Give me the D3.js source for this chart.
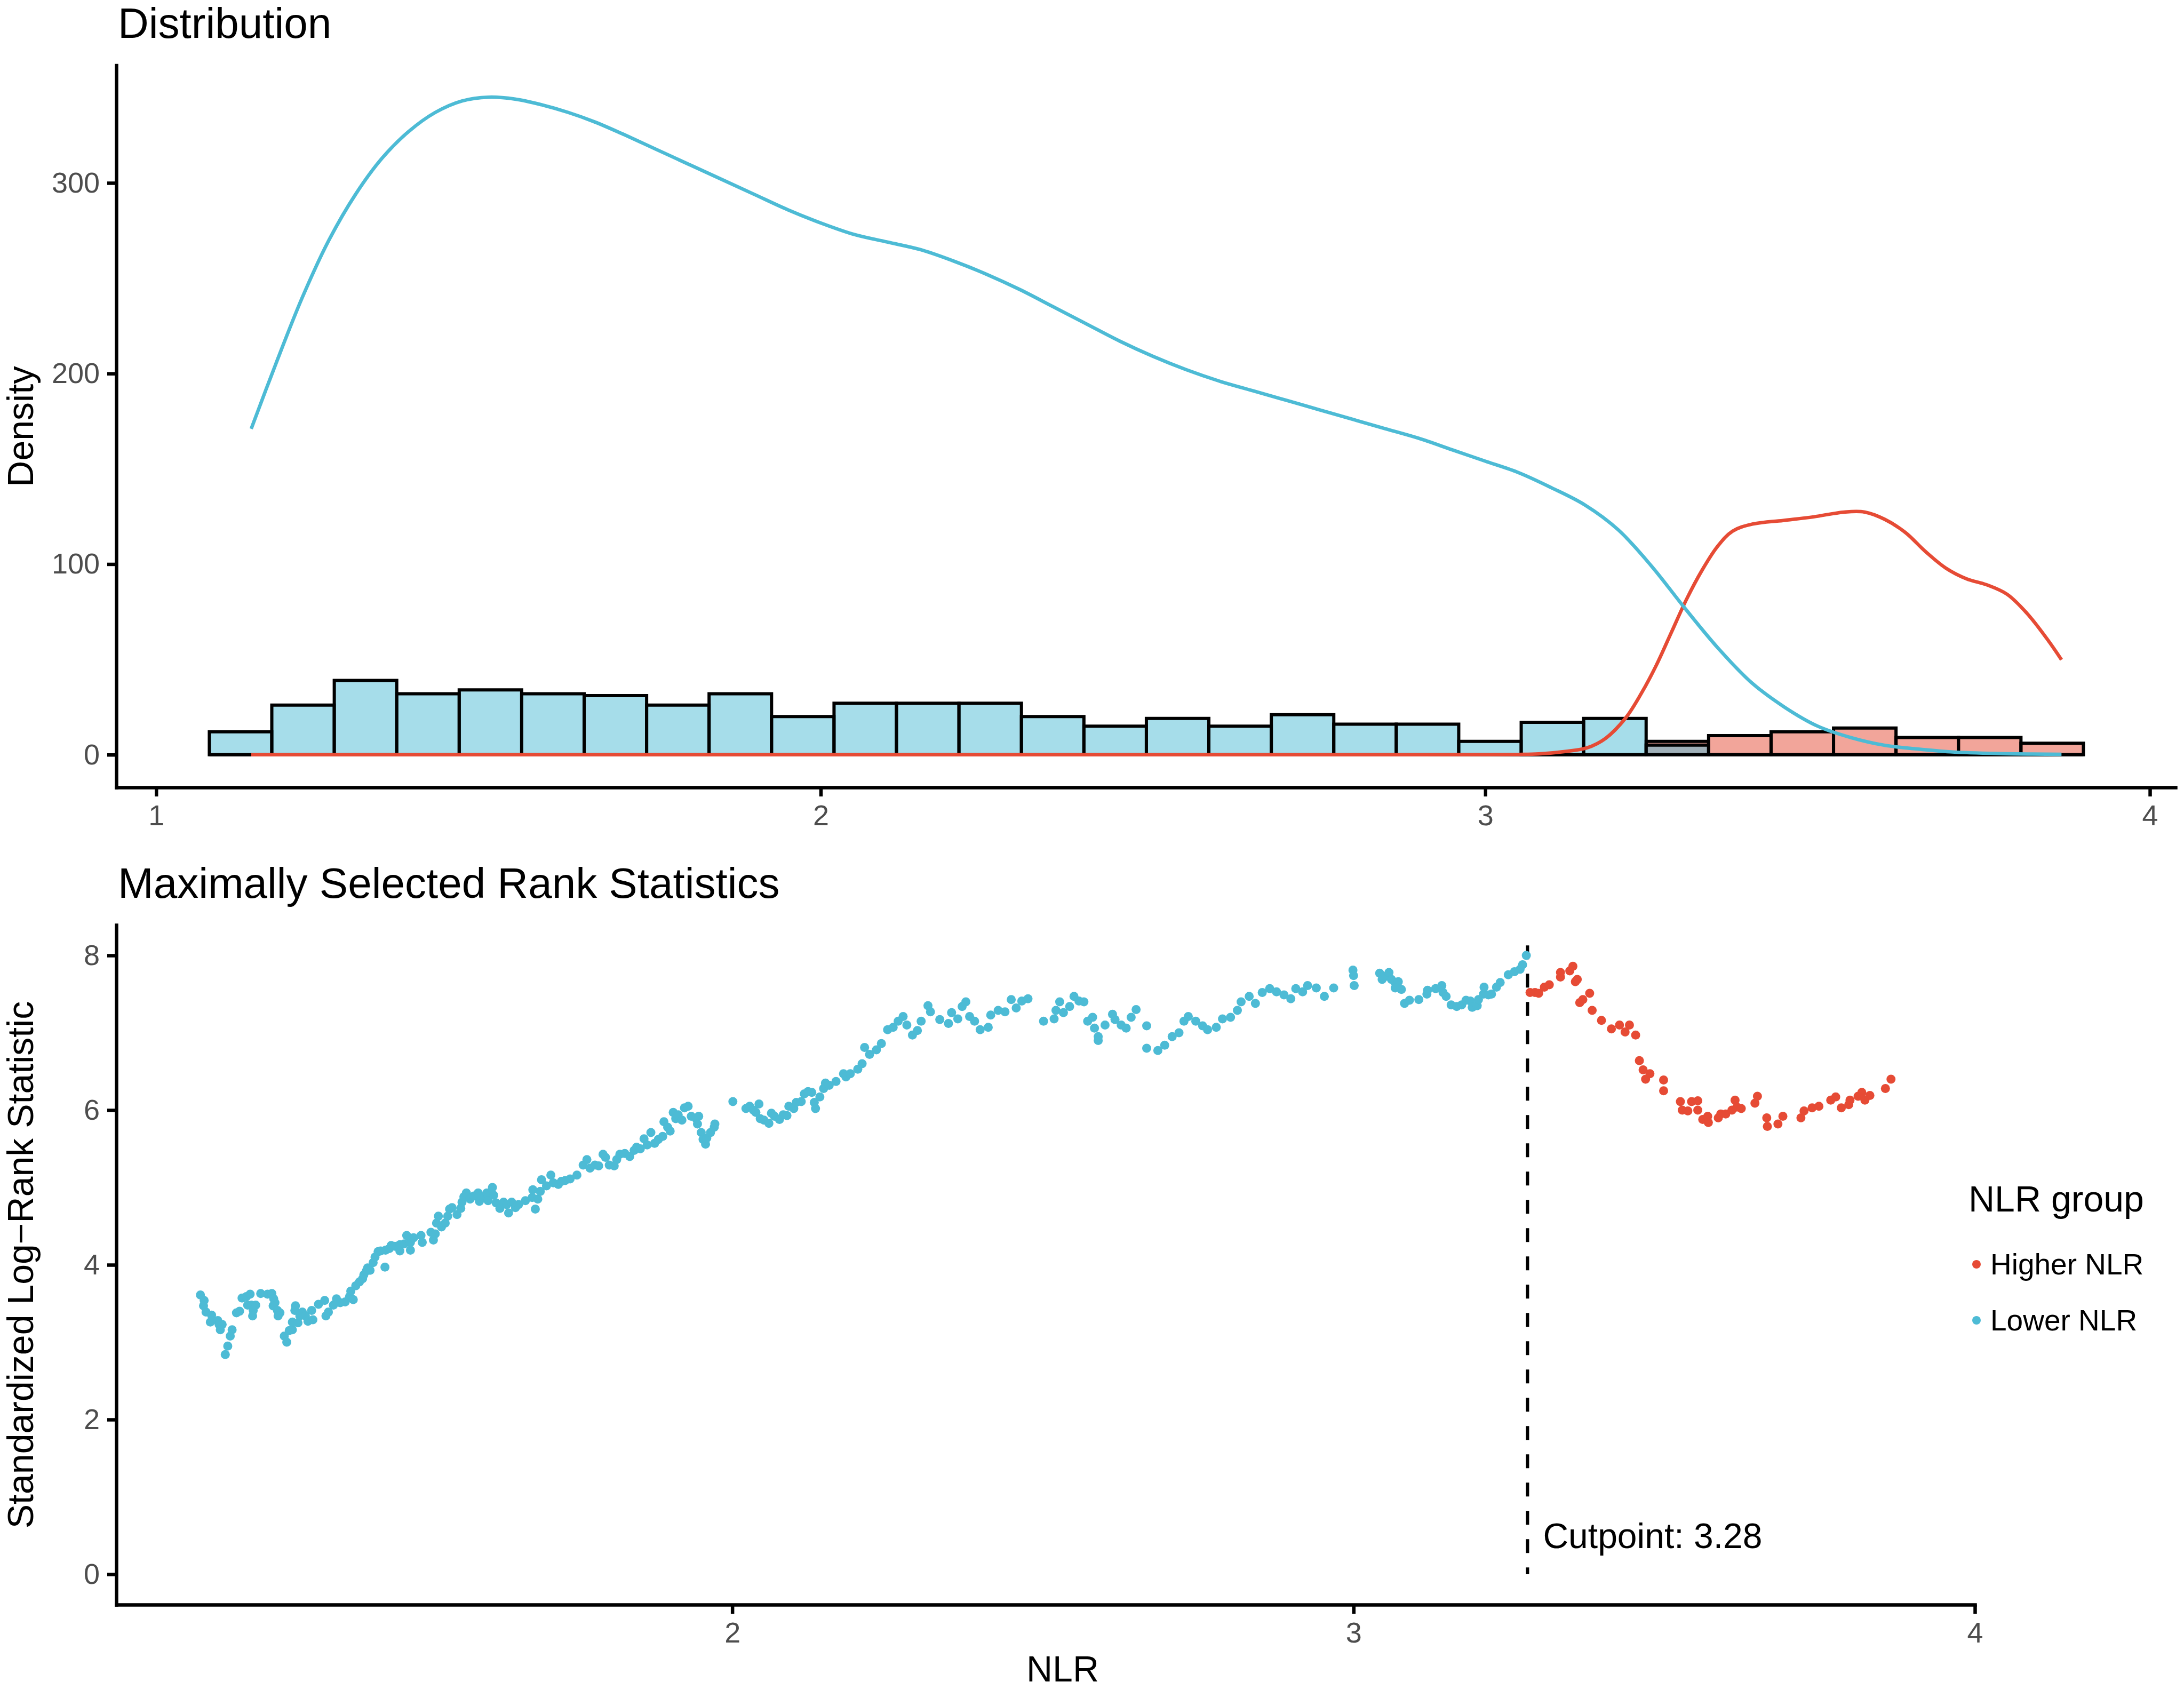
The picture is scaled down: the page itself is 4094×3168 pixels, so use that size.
<!DOCTYPE html>
<html>
<head>
<meta charset="utf-8" />
<title>Distribution and Maximally Selected Rank Statistics</title>
<style>
  body { margin: 0; background: #ffffff; }
  svg text { font-family: "Liberation Sans", Arial, sans-serif; }
</style>
</head>
<body>
<svg id="chart" width="4094" height="3168"></svg>
<script src="https://d3js.org/d3.v7.min.js"></script>
<script>
//------------------------------------------------Data------------------------------------------------//
var groups = ["Higher NLR", "Lower NLR"];
var groupColors = ["#E64B35", "#4DBBD5"];

// histogram: 30 bins of equal width starting at histStart
var histStart = 1.080, histBinWidth = 0.094;
var higherCounts = [0,0,0,0,0,0,0,0,0,0,0,0,0,0,0,0,0,0,0,0,0,0,0,7,10,12,14,9,9,6];
var lowerCounts  = [12,26,39,32,34,32,31,26,32,20,27,27,27,20,15,19,15,21,16,16,7,17,19,5,0,0,0,0,0,0];

// density curves
var lowerDensX = [1.143,1.18,1.22,1.26,1.30,1.34,1.38,1.42,1.46,1.50,1.54,1.58,1.62,1.66,1.70,1.75,1.80,1.85,1.90,1.95,2.0,2.05,2.1,2.15,2.2,2.25,2.3,2.35,2.4,2.45,2.5,2.55,2.6,2.65,2.7,2.75,2.8,2.85,2.9,2.95,3.0,3.05,3.1,3.15,3.2,3.25,3.3,3.35,3.4,3.45,3.5,3.55,3.6,3.65,3.7,3.77,3.867];
var lowerDensY = [171,205,240,270,294,313,327,337,343,345,344,341,337,332,326,318,310,302,294,286,279,273,269,265,259,252,244,235,226,217,209,202,196,191,186,181,176,171,166,160,154,148,140,131,118,99,77,56,38,25,15,9,5,3,1.5,0.6,0.2];
var higherDensX = [1.143,1.6,2.0,2.5,2.9,3.0,3.05,3.08,3.12,3.153,3.181,3.211,3.234,3.257,3.28,3.303,3.326,3.349,3.372,3.402,3.448,3.494,3.54,3.571,3.601,3.632,3.662,3.693,3.724,3.754,3.785,3.815,3.846,3.867];
var higherDensY = [0,0,0,0,0,0.05,0.15,0.4,1.7,3.6,8.6,19.2,31.7,46.7,64.2,81.7,96.7,109.1,117.3,121,122.9,124.8,127.3,127.3,123.5,116.6,106.7,97.9,92.3,89.2,84.2,74.2,60.4,49.8];

// maximally selected rank statistics [NLR, statistic]
var lowerPoints = [
  [1.144,3.61],[1.150,3.54],[1.149,3.47],[1.153,3.39],[1.162,3.35],[1.160,3.26],[1.172,3.28],[1.174,3.23],[1.179,3.23],[1.176,3.16],
  [1.195,3.16],[1.192,3.08],[1.188,2.95],[1.184,2.84],[1.202,3.38],[1.207,3.40],[1.211,3.57],[1.218,3.59],[1.224,3.62],[1.220,3.48],
  [1.226,3.48],[1.233,3.48],[1.229,3.41],[1.228,3.34],[1.241,3.63],[1.252,3.62],[1.259,3.63],[1.262,3.56],[1.264,3.51],[1.261,3.47],
  [1.268,3.41],[1.272,3.38],[1.269,3.34],[1.279,3.08],[1.283,3.00],[1.287,3.15],[1.292,3.16],[1.292,3.26],[1.297,3.47],[1.296,3.41],
  [1.301,3.25],[1.304,3.34],[1.308,3.39],[1.313,3.34],[1.317,3.27],[1.323,3.41],[1.325,3.29],[1.334,3.49],[1.344,3.54],[1.346,3.34],
  [1.350,3.39],[1.358,3.48],[1.363,3.56],[1.369,3.51],[1.377,3.52],[1.384,3.59],[1.390,3.55],[1.386,3.66],[1.394,3.73],[1.400,3.78],
  [1.405,3.82],[1.407,3.87],[1.411,3.92],[1.413,3.96],[1.417,3.93],[1.422,4.03],[1.425,4.10],[1.430,4.17],[1.434,4.18],[1.441,3.97],
  [1.442,4.19],[1.448,4.21],[1.451,4.25],[1.457,4.24],[1.465,4.18],[1.465,4.26],[1.472,4.27],[1.476,4.38],[1.482,4.29],[1.482,4.19],
  [1.487,4.35],[1.499,4.38],[1.501,4.29],[1.515,4.42],[1.519,4.32],[1.522,4.40],[1.524,4.54],[1.527,4.63],[1.532,4.49],[1.538,4.54],
  [1.542,4.63],[1.545,4.72],[1.549,4.74],[1.557,4.65],[1.563,4.73],[1.565,4.81],[1.568,4.88],[1.572,4.93],[1.578,4.85],[1.584,4.89],
  [1.591,4.93],[1.593,4.82],[1.599,4.88],[1.605,4.93],[1.607,4.83],[1.614,5.00],[1.616,4.90],[1.620,4.80],[1.626,4.73],[1.632,4.81],
  [1.637,4.78],[1.640,4.67],[1.645,4.81],[1.651,4.74],[1.656,4.78],[1.667,4.83],[1.678,4.87],[1.679,4.97],[1.683,4.72],[1.687,4.85],
  [1.691,4.95],[1.693,5.10],[1.701,5.02],
  [1.708,5.16],[1.712,5.06],[1.720,5.04],[1.725,5.08],[1.731,5.09],[1.739,5.11],[1.750,5.16],[1.760,5.29],[1.766,5.36],[1.771,5.25],
  [1.779,5.29],[1.785,5.28],[1.792,5.43],[1.796,5.39],[1.802,5.29],[1.810,5.28],[1.814,5.36],[1.819,5.43],[1.827,5.44],[1.835,5.40],
  [1.842,5.48],[1.846,5.52],[1.852,5.50],[1.858,5.63],[1.863,5.55],[1.869,5.71],[1.875,5.57],[1.881,5.62],[1.888,5.66],[1.890,5.85],
  [1.896,5.78],[1.900,5.73],[1.905,5.97],[1.909,5.89],[1.913,5.94],[1.919,5.87],[1.923,6.03],[1.929,6.05],[1.934,5.92],[1.942,5.89],
  [1.946,5.92],[1.944,5.82],[1.950,5.71],[1.953,5.62],[1.957,5.56],[1.959,5.64],[1.965,5.71],[1.971,5.78],[1.972,5.82],[2.001,6.11],
  [2.022,6.02],[2.028,6.05],[2.034,6.00],[2.038,5.97],[2.043,6.08],[2.045,5.89],[2.051,5.87],[2.059,5.83],[2.063,5.96],[2.068,5.92],
  [2.076,5.88],[2.082,5.94],[2.088,5.93],[2.091,6.05],[2.099,6.02],[2.103,6.10],[2.111,6.11],[2.116,6.21],[2.122,6.24],[2.128,6.23],
  [2.132,6.10],[2.134,6.02],[2.141,6.17],[2.147,6.28],[2.150,6.35],
  [2.156,6.32],[2.167,6.37],[2.179,6.47],[2.183,6.43],[2.190,6.47],[2.202,6.53],[2.209,6.60],[2.213,6.81],[2.221,6.72],[2.232,6.78],
  [2.240,6.86],[2.250,7.04],[2.259,7.07],[2.267,7.15],[2.275,7.21],[2.281,7.10],[2.290,6.97],[2.298,7.03],[2.304,7.15],[2.315,7.35],
  [2.319,7.27],[2.334,7.17],[2.348,7.12],[2.353,7.26],[2.363,7.18],[2.370,7.34],[2.376,7.40],[2.382,7.21],[2.390,7.15],[2.399,7.04],
  [2.412,7.07],[2.416,7.23],[2.428,7.29],[2.439,7.27],[2.449,7.43],[2.457,7.32],[2.466,7.41],[2.476,7.44],[2.501,7.15],[2.518,7.18],
  [2.521,7.29],[2.527,7.40],[2.533,7.26],[2.543,7.34],[2.550,7.47],[2.558,7.41],[2.566,7.40],[2.572,7.15],[2.580,7.20],[2.583,7.06],
  [2.589,6.95],[2.589,6.90],[2.600,7.10],[2.612,7.24],[2.616,7.17],[2.626,7.10],[2.634,7.06],[2.642,7.20],[2.650,7.30],[2.667,7.09],
  [2.667,6.80],[2.685,6.77],[2.696,6.84],[2.708,6.95],[2.719,7.00],[2.727,7.15],[2.734,7.21],[2.746,7.15],[2.757,7.09],[2.765,7.04],
  [2.779,7.07],[2.789,7.18],[2.802,7.20],[2.813,7.29],[2.819,7.40],[2.832,7.47],[2.842,7.38],[2.853,7.52],[2.865,7.57],[2.876,7.53],
  [2.888,7.49],[2.899,7.44],[2.907,7.57],[2.918,7.53],[2.926,7.61],[2.940,7.58],[2.953,7.47],[2.968,7.58],[2.999,7.81],[3.000,7.74],
  [3.001,7.61],
  [3.042,7.77],[3.046,7.69],[3.052,7.73],[3.057,7.78],[3.061,7.69],[3.067,7.65],[3.072,7.66],[3.067,7.58],[3.077,7.56],[3.082,7.38],
  [3.090,7.42],[3.105,7.43],[3.118,7.50],[3.119,7.55],[3.132,7.57],[3.142,7.61],[3.144,7.52],[3.149,7.47],[3.157,7.36],[3.166,7.34],
  [3.174,7.36],[3.181,7.42],[3.188,7.41],[3.191,7.33],[3.199,7.35],[3.201,7.43],[3.209,7.50],[3.210,7.59],[3.217,7.49],[3.222,7.50],
  [3.230,7.59],[3.236,7.65],[3.249,7.75],[3.259,7.79],[3.268,7.82],[3.272,7.88],[3.278,8.00]
];
var higherPoints = [
  [3.284,7.52],[3.292,7.52],[3.298,7.51],[3.307,7.59],[3.315,7.62],[3.333,7.72],[3.333,7.78],[3.348,7.80],[3.353,7.86],[3.357,7.66],
  [3.360,7.69],[3.364,7.39],[3.369,7.43],[3.380,7.51],[3.384,7.29],[3.399,7.16],[3.415,7.05],[3.428,7.10],[3.437,7.01],[3.444,7.10],
  [3.454,6.97],[3.460,6.64],[3.466,6.52],[3.470,6.40],[3.477,6.47],[3.499,6.39],[3.499,6.25],[3.526,6.11],[3.529,6.00],[3.538,5.99],
  [3.544,6.11],[3.554,6.12],[3.554,6.00],[3.562,5.88],[3.570,5.92],[3.571,5.84],[3.587,5.90],[3.591,5.95],[3.599,5.95],[3.609,6.00],
  [3.614,6.13],[3.617,6.04],[3.624,6.02],[3.646,6.09],[3.650,6.18],[3.665,5.90],[3.666,5.79],[3.683,5.82],[3.691,5.92],[3.720,5.90],
  [3.725,5.99],[3.738,6.03],[3.749,6.05],[3.768,6.13],[3.776,6.17],[3.785,6.03],[3.797,6.07],[3.799,6.13],[3.812,6.18],[3.818,6.23],
  [3.823,6.13],[3.831,6.19],[3.856,6.28],[3.865,6.40]
];
var cutpoint = 3.28;
var cutpointTop = 8.13;

var topXTicks = [1, 2, 3, 4];
var topYTicks = [0, 100, 200, 300];
var botXTicks = [2, 3, 4];
var botYTicks = [0, 2, 4, 6, 8];

//------------------------------------------------Layout------------------------------------------------//
var svg = d3.select("#chart");
var font = "'Liberation Sans', Arial, sans-serif";
var lw = 6.5;

var topBox = {left: 218, right: 4078, top: 122.5, bottom: 1476};
var botBox = {left: 218, right: 3702, top: 1734, bottom: 3008};

var x1 = d3.scaleLinear().domain([0.940, 4.0385]).range([topBox.left, topBox.right]);
var y1 = d3.scaleLinear().domain([-17.15, 361.7]).range([topBox.bottom, topBox.top]);
var x2 = d3.scaleLinear().domain([1.0086, 4.0]).range([botBox.left, botBox.right]);
var y2 = d3.scaleLinear().domain([-0.393, 8.393]).range([botBox.bottom, botBox.top]);

function styleAxis(g) {
  g.attr("font-family", font).attr("font-size", 54);
  g.select(".domain").attr("stroke", "#000").attr("stroke-width", lw).attr("stroke-linecap", "square");
  g.selectAll(".tick line").attr("stroke", "#000").attr("stroke-width", lw);
  g.selectAll(".tick text").attr("fill", "#4D4D4D");
}

//------------------------------------------------Top panel: Distribution------------------------------------------------//
var gTop = svg.append("g");

function barPath(i, count) {
  var a = x1(histStart + i * histBinWidth), b = x1(histStart + (i + 1) * histBinWidth);
  var y0 = y1(0), yt = y1(count);
  return "M" + a + "," + y0 + "V" + yt + "H" + b + "V" + y0 + "Z";
}

// Higher NLR first, Lower NLR drawn over it (alpha 0.5 both)
[higherCounts, lowerCounts].forEach(function(counts, gi) {
  gTop.append("g").selectAll("path").data(counts).enter()
    .append("path")
    .attr("d", function(d, i) { return barPath(i, d); })
    .attr("fill", groupColors[gi])
    .attr("fill-opacity", 0.5)
    .attr("stroke", "#000")
    .attr("stroke-width", 6)
    .attr("stroke-linejoin", "miter");
});

var dens = d3.line()
  .curve(d3.curveCatmullRom.alpha(0.5))
  .x(function(d) { return x1(d[0]); })
  .y(function(d) { return y1(Math.max(0, d[1])); });

var densSets = [
  d3.zip(higherDensX, higherDensY),
  d3.zip(lowerDensX, lowerDensY)
];
densSets.forEach(function(pts, gi) {
  gTop.append("path")
    .attr("d", dens(pts))
    .attr("fill", "none")
    .attr("stroke", groupColors[gi])
    .attr("stroke-width", 6.5);
});

var topX = gTop.append("g")
  .attr("transform", "translate(0," + topBox.bottom + ")")
  .call(d3.axisBottom(x1).tickValues(topXTicks).tickFormat(d3.format("d")).tickSize(17).tickSizeOuter(0).tickPadding(16));
styleAxis(topX);

var topY = gTop.append("g")
  .attr("transform", "translate(" + topBox.left + ",0)")
  .call(d3.axisLeft(y1).tickValues(topYTicks).tickFormat(d3.format("d")).tickSize(17).tickSizeOuter(0).tickPadding(14));
styleAxis(topY);

svg.append("text")
  .attr("x", 221).attr("y", 71)
  .attr("font-size", 80).attr("fill", "#000")
  .text("Distribution");

svg.append("text")
  .attr("transform", "translate(62," + ((topBox.top + topBox.bottom) / 2) + ") rotate(-90)")
  .attr("text-anchor", "middle")
  .attr("font-size", 68).attr("fill", "#000")
  .text("Density");

//------------------------------------------------Bottom panel: rank statistics------------------------------------------------//
var gBot = svg.append("g");

gBot.append("line")
  .attr("x1", x2(cutpoint)).attr("x2", x2(cutpoint))
  .attr("y1", y2(cutpointTop)).attr("y2", y2(0))
  .attr("stroke", "#000")
  .attr("stroke-width", 6)
  .attr("stroke-dasharray", "26,27");

[lowerPoints, higherPoints].forEach(function(pts, k) {
  gBot.append("g").selectAll("circle").data(pts).enter()
    .append("circle")
    .attr("cx", function(d) { return x2(d[0]); })
    .attr("cy", function(d) { return y2(d[1]); })
    .attr("r", 8.5)
    .attr("fill", groupColors[1 - k]);
});

gBot.append("text")
  .attr("x", x2(cutpoint) + 29).attr("y", y2(0.34))
  .attr("font-size", 66).attr("fill", "#000")
  .text("Cutpoint: 3.28");

var botX = gBot.append("g")
  .attr("transform", "translate(0," + botBox.bottom + ")")
  .call(d3.axisBottom(x2).tickValues(botXTicks).tickFormat(d3.format("d")).tickSize(17).tickSizeOuter(0).tickPadding(16));
styleAxis(botX);

var botY = gBot.append("g")
  .attr("transform", "translate(" + botBox.left + ",0)")
  .call(d3.axisLeft(y2).tickValues(botYTicks).tickFormat(d3.format("d")).tickSize(17).tickSizeOuter(0).tickPadding(14));
styleAxis(botY);

svg.append("text")
  .attr("x", 221).attr("y", 1683)
  .attr("font-size", 80).attr("fill", "#000")
  .text("Maximally Selected Rank Statistics");

svg.append("text")
  .attr("x", 1992).attr("y", 3152)
  .attr("text-anchor", "middle")
  .attr("font-size", 68).attr("fill", "#000")
  .text("NLR");

svg.append("text")
  .attr("transform", "translate(62," + ((botBox.top + botBox.bottom) / 2) + ") rotate(-90)")
  .attr("text-anchor", "middle")
  .attr("font-size", 68).attr("fill", "#000")
  .text("Standardized Log\u2212Rank Statistic");

// legend
var legend = svg.append("g");
legend.append("text")
  .attr("x", 3690).attr("y", 2271)
  .attr("font-size", 68).attr("fill", "#000")
  .text("NLR group");

var legendItems = legend.selectAll(".item").data(groups).enter()
  .append("g").attr("class", "item")
  .attr("transform", function(d, i) { return "translate(0," + (i * 105) + ")"; });
legendItems.append("circle")
  .attr("cx", 3705).attr("cy", 2370).attr("r", 8)
  .attr("fill", function(d, i) { return groupColors[i]; });
legendItems.append("text")
  .attr("x", 3731).attr("y", 2389)
  .attr("font-size", 55).attr("fill", "#000")
  .text(function(d) { return d; });
</script>
</body>
</html>
